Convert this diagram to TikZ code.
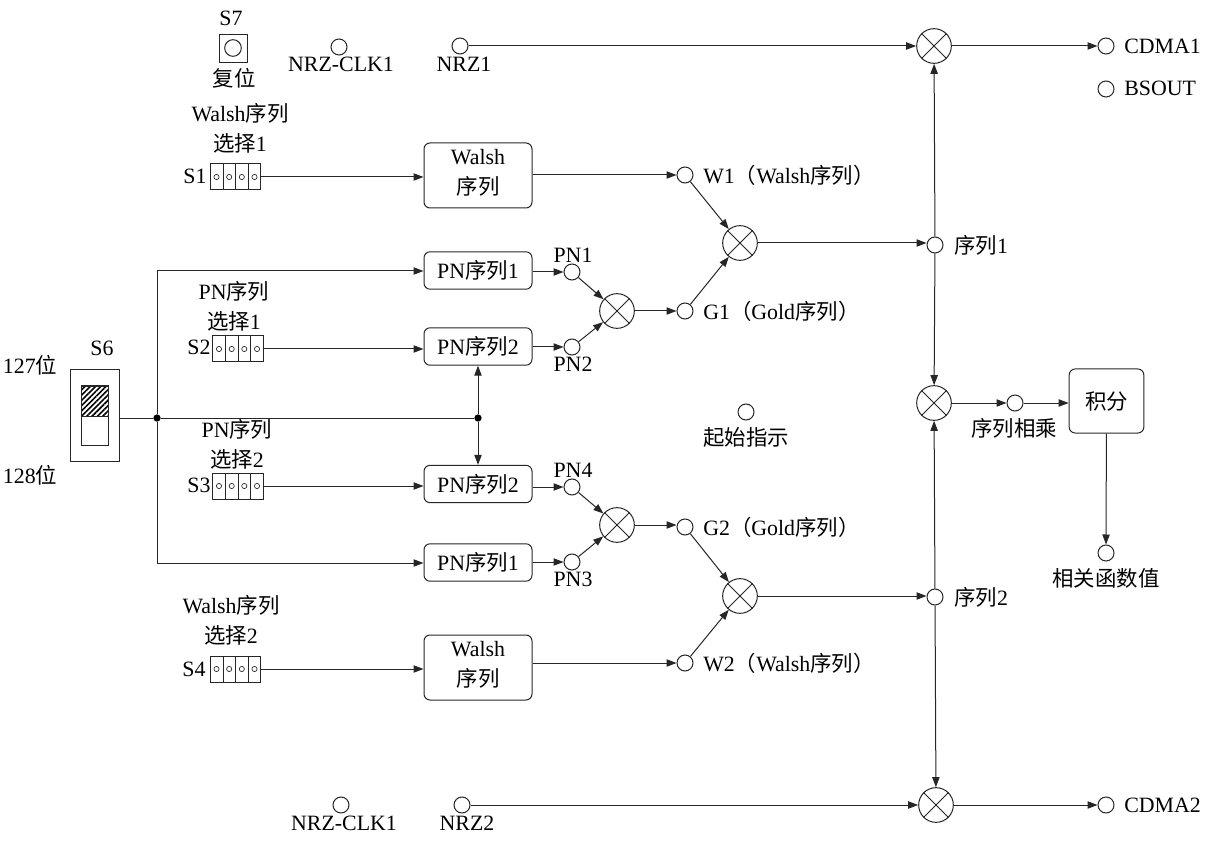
\documentclass[tikz,border=0pt]{standalone}
\usepackage{fontspec}
\setmainfont{Liberation Serif}
\newfontfamily\cjk{Noto Sans CJK SC}[Scale=0.98]
\newcommand{\cn}[1]{{\cjk #1}}
\usetikzlibrary{arrows.meta,patterns.meta}
\tikzset{
  base/.style={line width=0.75pt,draw=black!85},
  sc/.style={circle,base,inner sep=0pt,minimum size=12pt,fill=white},
  xorc/.style={circle,base,inner sep=0pt,minimum size=26pt,fill=white},
  blk/.style={rectangle,base,rounded corners=4.5pt,inner sep=0pt,minimum width=81pt,align=center,font=\fontsize{16.4}{22}\selectfont},
  lab/.style={inner sep=0pt,align=center,font=\fontsize{16.4}{18}\selectfont},
  labl/.style={lab,anchor=west},
  arr/.style={base,-{Triangle[length=7.5pt,width=5.5pt]}},
  con/.style={base},
  dot/.style={circle,fill=black,inner sep=0pt,minimum size=5.5pt},
  swt/.style={rectangle,base,inner sep=0pt,minimum width=38pt,minimum height=19.5pt},
}
\newcommand{\xorat}[3]{\node[xorc] (#1) at (#2,#3) {};
  \draw[base] (#1.45)--(#1.225) (#1.135)--(#1.315);}
\newcommand{\swat}[3]{\node[swt] (#1) at (#2,#3) {};
  \foreach \i in {-12.5,0,12.5}{\draw[base] (#2+\i,#3-13)--(#2+\i,#3+13);}
  \foreach \i in {-19,-6.3,6.3,19}{\draw[base,line width=0.5pt] (#2+\i,#3) circle[radius=2.6];}}
\begin{document}
\begin{tikzpicture}[x=0.75pt,y=-0.75pt]
\useasboundingbox (0,0) rectangle (1206,841);
% small circles
\node[sc] (clk1) at (339,47) {};
\node[sc] (nrz1) at (460,46) {};
\node[sc] (cdma1) at (1106,46) {};
\node[sc] (bsout) at (1106,89) {};
\node[sc] (w1) at (685,175) {};
\node[sc] (pn1) at (572,272) {};
\node[sc] (pn2) at (572,347) {};
\node[sc] (g1) at (685,311) {};
\node[sc] (seq1) at (935,245) {};
\node[sc] (start) at (746,412) {};
\node[sc] (seqm) at (1015,403) {};
\node[sc] (pn4) at (572,487) {};
\node[sc] (pn3) at (572,562) {};
\node[sc] (g2) at (685,527) {};
\node[sc] (w2) at (685,663) {};
\node[sc] (seq2) at (935,597) {};
\node[sc] (corr) at (1106,553) {};
\node[sc] (clk2) at (341,805) {};
\node[sc] (nrz2) at (462,805) {};
\node[sc] (cdma2) at (1106,805) {};
% multipliers
\xorat{x1}{934}{46}
\xorat{xw1}{740}{243}
\xorat{xg1}{617}{311}
\xorat{xm}{934}{403}
\xorat{xg2}{617}{525}
\xorat{xw2}{740}{596}
\xorat{x2}{936}{805}
% blocks
\node[blk,minimum height=48.75pt] (wa1) at (478,175.5) {Walsh\\\cn{序列}\rule[-5.5pt]{0pt}{5.5pt}};
\node[blk,minimum height=28pt] (pa1) at (478,270.5) {PN\cn{序列}1};
\node[blk,minimum height=28pt] (pa2) at (478,346.5) {PN\cn{序列}2};
\node[blk,minimum height=28pt] (pb2) at (478,484) {PN\cn{序列}2};
\node[blk,minimum height=28pt] (pb1) at (478,562.5) {PN\cn{序列}1};
\node[blk,minimum height=48.75pt] (wa2) at (478,667.5) {Walsh\\\cn{序列}\rule[-5.5pt]{0pt}{5.5pt}};
\node[blk,minimum width=56pt,minimum height=48pt] (intg) at (1106.5,401) {\cn{积分}};
% switches
\swat{s1}{235.5}{177}
\swat{s2}{238}{349}
\swat{s3}{238}{486}
\swat{s4}{235.5}{669}
% S7
\node[rectangle,base,minimum size=21pt,inner sep=0pt] (s7) at (233,49) {};
\node[circle,base,minimum size=12.5pt,inner sep=0pt] (s7c) at (233,48) {};
% S6
\node[rectangle,base,inner sep=0pt,minimum width=36.5pt,minimum height=68.25pt] (s6) at (95,415.5) {};
\node[rectangle,base,inner sep=0pt,minimum width=20.25pt,minimum height=44.25pt] (s6i) at (94.5,415.5) {};
\node[rectangle,base,inner sep=0pt,minimum width=20.25pt,minimum height=23pt,pattern={Lines[angle=45,distance=2.8pt,line width=1.2pt]}] (s6h) at (94.5,401.5) {};
% junctions
\node[dot] (j1) at (157,418) {};
\node[dot] (j2) at (478,418) {};
\coordinate (up) at (157,271);
\coordinate (dn) at (157,563);
% connectors
\draw[arr] (nrz1)--(x1);
\draw[arr] (x1)--(cdma1);
\draw[arr] (s1)--(s1-|wa1.west);
\draw[arr] (wa1.east|-w1)--(w1);
\draw[arr] (w1)--(xw1);
\draw[arr] (g1)--(xw1);
\draw[arr] (xw1)--(xw1-|seq1.west);
\draw[arr] (seq1)--(x1);
\draw[arr] (seq1)--(xm);
\draw[con] (s6.east|-j1)--(j1)--(j2);
\draw[arr] (j1)--(up)--(up-|pa1.west);
\draw[arr] (j1)--(dn)--(dn-|pb1.west);
\draw[arr] (j2)--(pa2);
\draw[arr] (j2)--(pb2);
\draw[arr] (s2)--(s2-|pa2.west);
\draw[arr] (s3)--(s3-|pb2.west);
\draw[arr] (pa1.east|-pn1)--(pn1);
\draw[arr] (pa2.east|-pn2)--(pn2);
\draw[arr] (pn1)--(xg1);
\draw[arr] (pn2)--(xg1);
\draw[arr] (xg1)--(xg1-|g1.west);
\draw[arr] (pb2.east|-pn4)--(pn4);
\draw[arr] (pb1.east|-pn3)--(pn3);
\draw[arr] (pn4)--(xg2);
\draw[arr] (pn3)--(xg2);
\draw[arr] (xg2)--(xg2-|g2.west);
\draw[arr] (g2)--(xw2);
\draw[arr] (w2)--(xw2);
\draw[arr] (wa2.east|-w2)--(w2);
\draw[arr] (s4)--(s4-|wa2.west);
\draw[arr] (xw2)--(xw2-|seq2.west);
\draw[arr] (seq2)--(xm);
\draw[arr] (seq2)--(x2);
\draw[arr] (xm)--(seqm);
\draw[arr] (seqm)--(seqm-|intg.west);
\draw[arr] (intg)--(corr);
\draw[arr] (nrz2)--(x2);
\draw[arr] (x2)--(cdma2);
% labels
\node[lab] (t1) at (231,18) {S7};
\node[lab] (t2) at (234,78) {\cn{复位}};
\node[lab] (t3) at (240,113) {Walsh\cn{序列}};
\node[lab] (t4) at (240,143) {\cn{选择}1};
\node[lab] (t5) at (195,176) {S1};
\node[lab] (t6) at (341,64) {NRZ-CLK1};
\node[lab] (t7) at (464,64) {NRZ1};
\node[labl] (t8) at (1124,46) {CDMA1};
\node[labl] (t9) at (1124,88) {BSOUT};
\node[labl] (t10) at (703,175) {W1\cn{（}Walsh\cn{序列）}};
\node[lab] (t11) at (573,255) {PN1};
\node[lab] (t12) at (573,364) {PN2};
\node[labl] (t13) at (703,311) {G1\cn{（}Gold\cn{序列）}};
\node[labl] (t14) at (954,245) {\cn{序列}1};
\node[lab] (t15) at (234,291) {PN\cn{序列}};
\node[lab] (t16) at (234,321) {\cn{选择}1};
\node[lab] (t17) at (199,347) {S2};
\node[lab] (t18) at (102,348) {S6};
\node[lab] (t19) at (30,365) {127\cn{位}};
\node[lab] (t20) at (30,475) {128\cn{位}};
\node[lab] (t21) at (237,429) {PN\cn{序列}};
\node[lab] (t22) at (237,459) {\cn{选择}2};
\node[lab] (t23) at (199,485) {S3};
\node[lab] (t24) at (746,437) {\cn{起始指示}};
\node[lab] (t25) at (1014,428) {\cn{序列相乘}};
\node[labl] (t26) at (954,597) {\cn{序列}2};
\node[lab] (t27) at (1106,578) {\cn{相关函数值}};
\node[lab] (t28) at (573,470) {PN4};
\node[lab] (t29) at (573,579) {PN3};
\node[labl] (t30) at (703,527) {G2\cn{（}Gold\cn{序列）}};
\node[labl] (t31) at (703,663) {W2\cn{（}Walsh\cn{序列）}};
\node[lab] (t32) at (231,605) {Walsh\cn{序列}};
\node[lab] (t33) at (231,635) {\cn{选择}2};
\node[lab] (t34) at (194,669) {S4};
\node[lab] (t35) at (344,823) {NRZ-CLK1};
\node[lab] (t36) at (467,823) {NRZ2};
\node[labl] (t37) at (1124,805) {CDMA2};
\end{tikzpicture}
\end{document}
